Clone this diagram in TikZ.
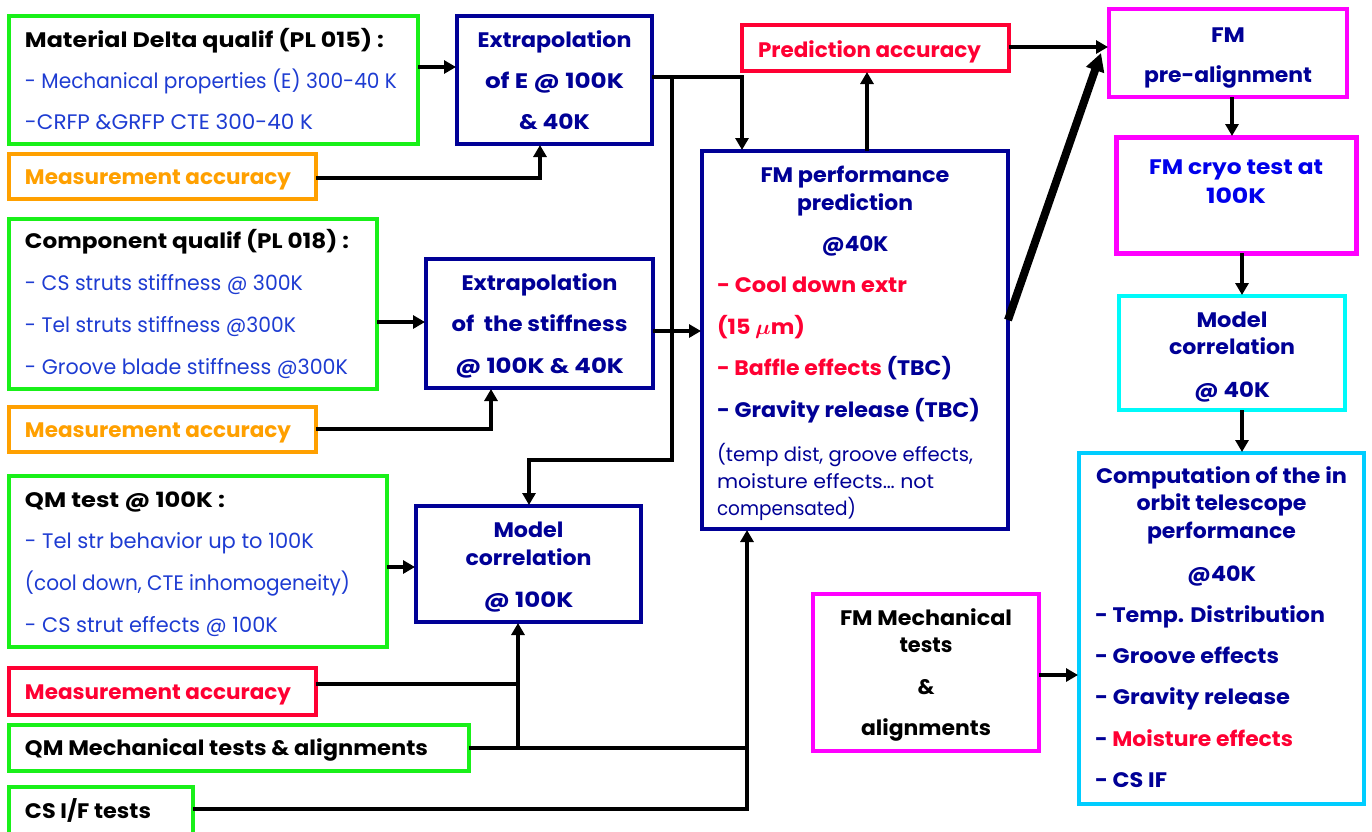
\documentclass[tikz,border=0pt]{standalone}
\usepackage{fontspec}
\setmainfont{Poppins}
\usepackage{graphicx}
\usetikzlibrary{arrows.meta}

\definecolor{cgreen}{RGB}{25,240,25}
\definecolor{corange}{RGB}{255,160,0}
\definecolor{cnavy}{RGB}{0,0,150}
\definecolor{cred}{RGB}{255,0,51}
\definecolor{cmag}{RGB}{255,0,255}
\definecolor{ccyan}{RGB}{0,250,250}
\definecolor{csky}{RGB}{0,205,255}
\definecolor{tblue}{RGB}{30,60,210}
\definecolor{cblue}{RGB}{0,0,235}

% set a line at a given width (pt), scaling it horizontally only
\newlength\fitlen
\newcommand\fl[2]{\settowidth{\fitlen}{#2}\pgfmathsetmacro\fitfac{#1/\fitlen}\scalebox{\fitfac}[1]{#2}}
% box body: width, height, distance from top to first baseline, text
\newcommand\boxtxt[4]{\parbox[c][#2pt][t]{#1pt}{\rule{0pt}{#3pt}#4}}
\newcommand\blu[1]{\textcolor{tblue}{#1}}

\begin{document}
\begin{tikzpicture}[x=1pt,y=-1pt,
  box/.style={draw, line width=4pt, inner sep=0pt, outer sep=0pt, anchor=north west},
  link/.style={line width=4.8pt},
  arr/.style={link, -{Triangle[length=12pt,width=13pt]}, shorten >=1pt},
  bigarr/.style={line width=8pt, -{Triangle[length=18pt,width=18pt]}}]
\useasboundingbox (0,0) rectangle (1372,831);
\fill[white] (0,0) rectangle (1372,831);

% ---------- left column: qualification inputs ----------
\node[box,draw=cgreen] (mat) at (9,16) {\boxtxt{409}{128}{31}{\fontsize{21}{41}\selectfont\raggedright\leftskip=16pt%
 \fl{359}{\bfseries Material Delta qualif (PL 015) :}\\
 \fl{372}{\blu{- Mechanical properties (E) 300-40 K}}\\
 \fl{288}{\blu{-CRFP \&GRFP CTE 300-40 K}}}};

\node[box,draw=corange] (ma1) at (9,154) {\boxtxt{307}{45}{30}{\fontsize{21}{41}\selectfont\raggedright\leftskip=16pt%
 \fl{266}{\bfseries\color{corange}Measurement accuracy}}};

\node[box,draw=cgreen] (cq) at (9,219) {\boxtxt{368}{170}{29}{\fontsize{21}{42}\selectfont\raggedright\leftskip=16pt%
 \fl{324}{\bfseries Component qualif (PL 018) :}\\
 \fl{278}{\blu{- CS struts stiffness @ 300K}}\\
 \fl{271}{\blu{- Tel struts stiffness @300K}}\\
 \fl{323}{\blu{- Groove blade stiffness @300K}}}};

\node[box,draw=corange] (ma2) at (9,407) {\boxtxt{307}{45}{30}{\fontsize{21}{41}\selectfont\raggedright\leftskip=16pt%
 \fl{266}{\bfseries\color{corange}Measurement accuracy}}};

\node[box,draw=cgreen] (qm) at (9,476) {\boxtxt{378}{171}{31}{\fontsize{21}{41.7}\selectfont\raggedright\leftskip=16pt%
 \fl{200}{\bfseries QM test @ 100K :}\\
 \fl{289}{\blu{- Tel str behavior up to 100K}}\\
 \fl{325}{\blu{(cool down, CTE inhomogeneity)}}\\
 \fl{253}{\blu{- CS strut effects @ 100K}}}};

\node[box,draw=cred] (mar) at (9,668) {\boxtxt{307}{47}{31}{\fontsize{21}{41}\selectfont\raggedright\leftskip=16pt%
 \fl{266}{\bfseries\color{cred}Measurement accuracy}}};

\node[box,draw=cgreen] (qmm) at (9,725) {\boxtxt{460}{46}{30}{\fontsize{21}{41}\selectfont\raggedright\leftskip=16pt%
 \fl{403}{\bfseries QM Mechanical tests \& alignments}}};

\node[box,draw=cgreen] (csif) at (9,787) {\boxtxt{184}{60}{31}{\fontsize{21}{41}\selectfont\raggedright\leftskip=16pt%
 \fl{126}{\bfseries CS I/F tests}}};

% ---------- extrapolation and correlation ----------
\node[box,draw=cnavy] (exE) at (457,16) {\boxtxt{195}{128}{31}{\fontsize{21}{41}\selectfont\centering\bfseries\color{cnavy}%
 \fl{154}{Extrapolation}\\ \fl{139}{of E @ 100K}\\ \fl{71}{\& 40K}}};

\node[box,draw=cnavy] (exS) at (426,259) {\boxtxt{227}{129}{31}{\fontsize{21}{41.5}\selectfont\centering\bfseries\color{cnavy}%
 \fl{156}{Extrapolation}\\ \fl{176}{of\ \ the stiffness}\\ \fl{169}{@ 100K \& 40K}}};

\node[box,draw=cnavy] (mc100) at (416,506) {\boxtxt{225}{116}{31}{\fontsize{21}{28}\selectfont\centering\bfseries\color{cnavy}%
 \fl{70}{Model}\\ \fl{126}{correlation}\\[14pt] \fl{90}{@ 100K}}};

% ---------- FM prediction ----------
\node[box,draw=cnavy] (fmperf) at (702,151) {\boxtxt{306}{378}{31}{\fontsize{21}{28}\selectfont\centering\bfseries\color{cnavy}%
 \fl{189}{FM performance}\\ \fl{116}{prediction}\\[13pt] \fl{67}{@40K}\par
 \fontsize{21}{41.5}\selectfont\raggedright\leftskip=15pt%
 \fl{190}{\color{cred}- Cool down extr}\\
 \fl{88}{\color{cred}(15 {\boldmath$\mu$}m)}\\
 \fl{235}{\textcolor{cred}{- Baffle effects} (TBC)}\\
 \fl{263}{- Gravity release (TBC)}\par
 \vspace{17pt}%
 \fontsize{19.5}{27}\selectfont\mdseries
 \fl{256}{(temp dist, groove effects,}\\ \fl{217}{moisture effects… not}\\ \fl{139}{compensated)}}};

\node[box,draw=cred] (pa) at (742,25) {\boxtxt{267}{46}{32}{\fontsize{21}{41}\selectfont\raggedright\leftskip=16pt%
 \fl{223}{\bfseries\color{cred}Prediction accuracy}}};

\node[box,draw=cmag] (fmm) at (813,594) {\boxtxt{226}{157}{31}{\fontsize{21}{27}\selectfont\centering\bfseries%
 \fl{172}{FM Mechanical}\\ \fl{53}{tests}\\[15pt] \fl{17}{\&}\\[14pt] \fl{130}{alignments}}};

% ---------- right column: FM sequence ----------
\node[box,draw=cmag] (pre) at (1109,9) {\boxtxt{238}{88}{33}{\fontsize{21}{40}\selectfont\centering\bfseries\color{cnavy}%
 \fl{34}{FM}\\ \fl{168}{pre-alignment}}};

\node[box,draw=cmag,line width=5pt] (cryo) at (1116,137) {\boxtxt{240}{116}{37}{\fontsize{21}{29}\selectfont\centering\bfseries\color{cblue}%
 \fl{174}{FM cryo test at}\\ \fl{60}{100K}}};

\node[box,draw=ccyan] (mc40) at (1119,296) {\boxtxt{226}{114}{31}{\fontsize{21}{27}\selectfont\centering\bfseries\color{cnavy}%
 \fl{71}{Model}\\ \fl{126}{correlation}\\[16pt] \fl{76}{@ 40K}}};

\node[box,draw=csky] (comp) at (1079,453) {\boxtxt{285}{351}{30}{\fontsize{21}{27.5}\selectfont\centering\bfseries\color{cnavy}%
 \fl{251}{Computation of the in}\\ \fl{170}{orbit telescope}\\ \fl{149}{performance}\\[15.5pt] \fl{69}{@40K}\par
 \fontsize{21}{41.3}\selectfont\raggedright\leftskip=16pt%
 \fl{230}{- Temp. Distribution}\\ \fl{184}{- Groove effects}\\ \fl{195}{- Gravity release}\\
 \fl{198}{- \textcolor{cred}{Moisture effects}}\\ \fl{72}{- CS IF}}};

% ---------- connectors ----------
\coordinate (jE) at (672,77);
\coordinate (jQ) at (518,748);
\coordinate (jC) at (747,748);

\draw[arr] (mat.east |- 0,67) -- (exE.west |- 0,67);
\draw[arr] (ma1.east |- 0,178) -| (exE.south -| 540,0);
\draw[arr] (exE.east |- 0,77) -| (fmperf.north -| 742,0);
\draw[arr] (jE) -- (672,460) -| (mc100.north -| 529,0);
\draw[arr] (cq.east |- 0,322) -- (exS.west |- 0,322);
\draw[arr] (ma2.east |- 0,429) -| (exS.south -| 491,0);
\draw[arr] (exS.east |- 0,331) -- (fmperf.west |- 0,331);
\draw[arr] (qm.east |- 0,567) -- (mc100.west |- 0,567);
\draw[arr] (mar.east |- 0,684) -| (mc100.south -| 518,0);
\draw[link] (jQ) -- (518,684);
\draw[link] (qmm.east |- jQ) -- (jC);
\draw[arr] (csif.east |- 0,809) -| (fmperf.south -| 747,0);
\draw[arr] (fmperf.north -| 867,0) -- (pa.south -| 867,0);
\draw[arr] (pa.east |- 0,47) -- (pre.west |- 0,47);
\draw[bigarr] (fmperf.east |- 0,320) -- ([xshift=-8pt]pre.west);
\draw[arr] (pre.south -| 1232,0) -- (cryo.north -| 1232,0);
\draw[arr] (cryo.south -| 1242,0) -- (mc40.north -| 1242,0);
\draw[arr] (mc40.south -| 1242,0) -- (comp.north -| 1242,0);
\draw[arr] (fmm.east |- 0,675) -- (comp.west |- 0,675);
\end{tikzpicture}
\end{document}
